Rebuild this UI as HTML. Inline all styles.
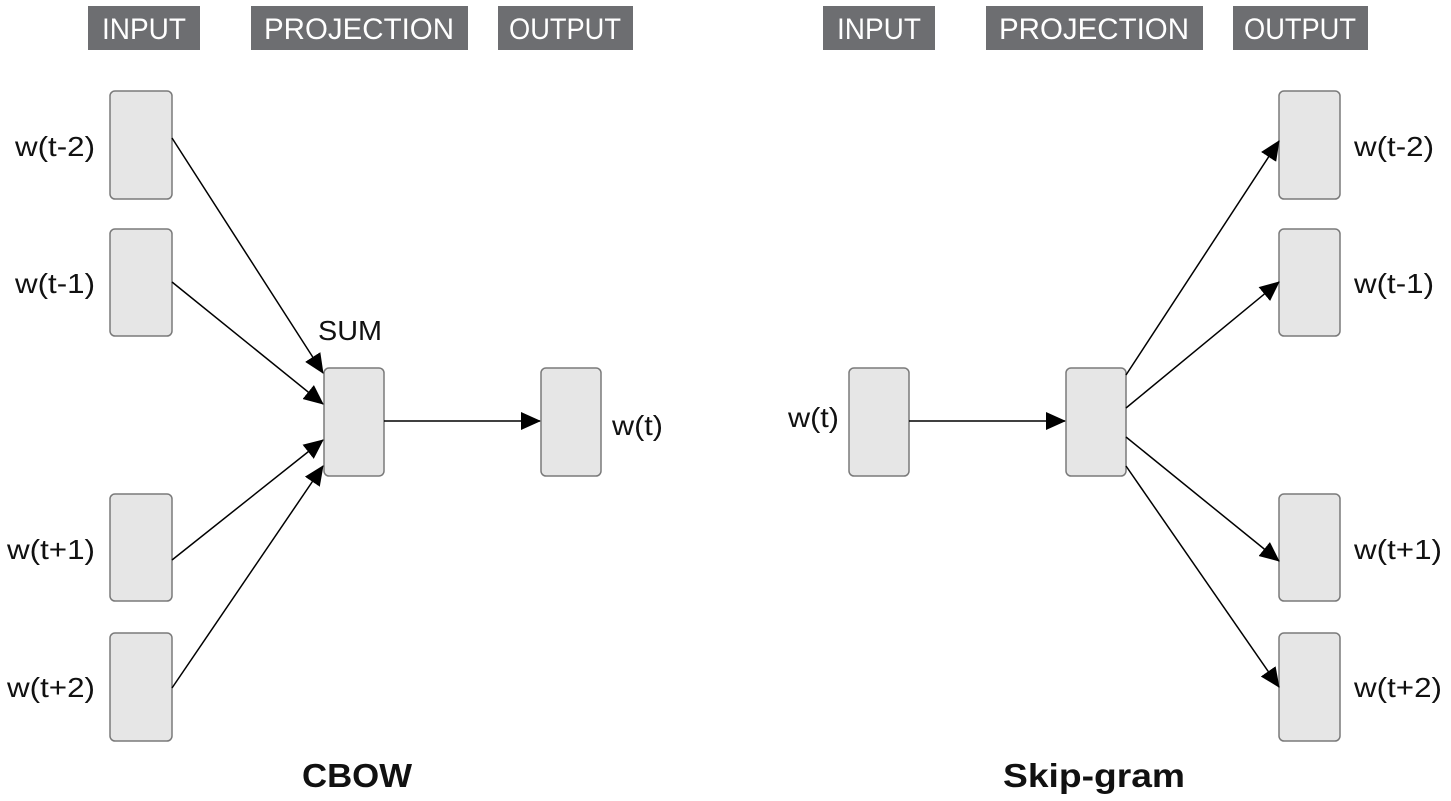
<!DOCTYPE html>
<html><head><style>
body{margin:0;background:#fff;}
svg{display:block;}
text{font-family:"Liberation Sans",sans-serif;}
</style></head><body>
<svg width="1451" height="801" viewBox="0 0 1451 801" xmlns="http://www.w3.org/2000/svg">
<defs>
<marker id="b" markerWidth="20" markerHeight="18" refX="19" refY="9" orient="auto" markerUnits="userSpaceOnUse" viewBox="0 0 20 18">
<path d="M0,0 L20,9 L0,18 z" fill="#000"/>
</marker>
</defs>
<g fill="#6d6e71">
<rect x="88" y="6" width="112" height="44"/>
<rect x="251" y="6" width="217" height="44"/>
<rect x="498" y="6" width="135" height="44"/>
<rect x="823" y="6" width="112" height="44"/>
<rect x="986" y="6" width="217" height="44"/>
<rect x="1233" y="6" width="135" height="44"/>
</g>
<g fill="#fff" font-size="30" text-anchor="middle">
<text x="144" y="39" textLength="84" lengthAdjust="spacingAndGlyphs">INPUT</text>
<text x="359" y="39" textLength="190" lengthAdjust="spacingAndGlyphs">PROJECTION</text>
<text x="565" y="39" textLength="112" lengthAdjust="spacingAndGlyphs">OUTPUT</text>
<text x="879" y="39" textLength="84" lengthAdjust="spacingAndGlyphs">INPUT</text>
<text x="1094" y="39" textLength="190" lengthAdjust="spacingAndGlyphs">PROJECTION</text>
<text x="1300" y="39" textLength="112" lengthAdjust="spacingAndGlyphs">OUTPUT</text>
</g>
<g fill="#e6e6e6" stroke="#7a7a7a" stroke-width="1.5">
<rect x="110" y="91" width="62" height="108" rx="5"/>
<rect x="110" y="229" width="62" height="107" rx="5"/>
<rect x="110" y="494" width="62" height="107" rx="5"/>
<rect x="110" y="633" width="62" height="108" rx="5"/>
<rect x="324" y="368" width="60" height="108" rx="5"/>
<rect x="541" y="368" width="60" height="108" rx="5"/>
<rect x="849" y="368" width="60" height="108" rx="5"/>
<rect x="1066" y="368" width="60" height="108" rx="5"/>
<rect x="1279" y="91" width="61" height="108" rx="5"/>
<rect x="1279" y="229" width="61" height="107" rx="5"/>
<rect x="1279" y="494" width="61" height="107" rx="5"/>
<rect x="1279" y="633" width="61" height="108" rx="5"/>
</g>
<g stroke="#000" stroke-width="1.5" marker-end="url(#b)">
<line x1="172" y1="138" x2="323" y2="373"/>
<line x1="172" y1="282" x2="323" y2="404"/>
<line x1="172" y1="560" x2="323" y2="440"/>
<line x1="172" y1="688" x2="323" y2="466"/>
<line x1="384" y1="421" x2="540" y2="421"/>
<line x1="909" y1="421" x2="1065" y2="421"/>
<line x1="1126" y1="375" x2="1279" y2="141"/>
<line x1="1126" y1="408" x2="1279" y2="282"/>
<line x1="1126" y1="437" x2="1279" y2="561"/>
<line x1="1126" y1="466" x2="1279" y2="687"/>
</g>
<g fill="#111" font-size="28" lengthAdjust="spacingAndGlyphs">
<text x="15" y="156" textLength="80" lengthAdjust="spacingAndGlyphs">w(t-2)</text>
<text x="15" y="293" textLength="80" lengthAdjust="spacingAndGlyphs">w(t-1)</text>
<text x="7" y="559" textLength="88" lengthAdjust="spacingAndGlyphs">w(t+1)</text>
<text x="7" y="697" textLength="88" lengthAdjust="spacingAndGlyphs">w(t+2)</text>
<text x="318" y="340" textLength="64" lengthAdjust="spacingAndGlyphs">SUM</text>
<text x="612" y="435" textLength="51" lengthAdjust="spacingAndGlyphs">w(t)</text>
<text x="788" y="427" textLength="51" lengthAdjust="spacingAndGlyphs">w(t)</text>
<text x="1354" y="156" textLength="80" lengthAdjust="spacingAndGlyphs">w(t-2)</text>
<text x="1354" y="293" textLength="80" lengthAdjust="spacingAndGlyphs">w(t-1)</text>
<text x="1354" y="559" textLength="88" lengthAdjust="spacingAndGlyphs">w(t+1)</text>
<text x="1354" y="697" textLength="88" lengthAdjust="spacingAndGlyphs">w(t+2)</text>
</g>
<g fill="#111" font-size="33" font-weight="bold" text-anchor="middle">
<text x="357" y="787" textLength="110" lengthAdjust="spacingAndGlyphs">CBOW</text>
<text x="1094" y="787" textLength="182" lengthAdjust="spacingAndGlyphs">Skip-gram</text>
</g>
</svg>
</body></html>
